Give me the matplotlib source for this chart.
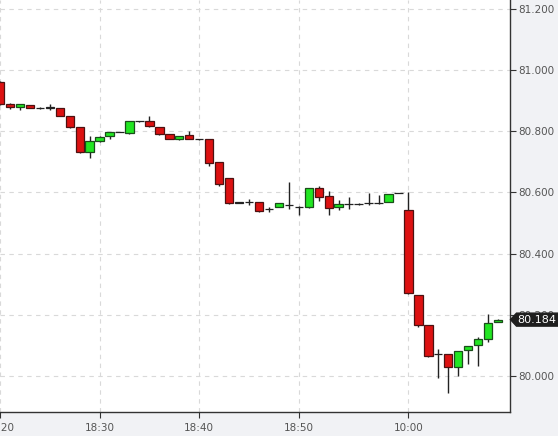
import matplotlib
matplotlib.use('Agg')
import matplotlib.pyplot as plt
from matplotlib.patches import Rectangle, Polygon

# ---- data ----
opens  = [80.961, 80.889, 80.879, 80.886, 80.877, 80.876, 80.876, 80.850, 80.814, 80.732,
          80.768, 80.784, 80.797, 80.794, 80.833, 80.833, 80.814, 80.791, 80.775, 80.788,
          80.775, 80.775, 80.699, 80.647, 80.566, 80.568, 80.569, 80.545, 80.552, 80.559,
          80.553, 80.552, 80.614, 80.588, 80.552, 80.562, 80.562, 80.565, 80.565, 80.569,
          80.598, 80.542, 80.265, 80.167, 80.072, 80.072, 80.029, 80.085, 80.101, 80.121,
          80.176]
highs  = [80.965, 80.892, 80.889, 80.886, 80.879, 80.889, 80.876, 80.850, 80.814, 80.784,
          80.784, 80.799, 80.799, 80.833, 80.835, 80.850, 80.814, 80.791, 80.784, 80.801,
          80.776, 80.775, 80.699, 80.647, 80.569, 80.578, 80.569, 80.552, 80.565, 80.634,
          80.555, 80.614, 80.621, 80.605, 80.575, 80.585, 80.565, 80.598, 80.592, 80.595,
          80.599, 80.601, 80.265, 80.167, 80.088, 80.072, 80.082, 80.098, 80.127, 80.203,
          80.186]
lows   = [80.886, 80.873, 80.869, 80.875, 80.873, 80.869, 80.850, 80.812, 80.730, 80.712,
          80.765, 80.775, 80.796, 80.791, 80.831, 80.814, 80.788, 80.773, 80.772, 80.773,
          80.772, 80.686, 80.621, 80.562, 80.565, 80.559, 80.536, 80.536, 80.552, 80.546,
          80.526, 80.550, 80.572, 80.526, 80.542, 80.546, 80.559, 80.559, 80.562, 80.569,
          80.597, 80.268, 80.160, 80.062, 79.993, 79.944, 80.000, 80.039, 80.033, 80.111,
          80.175]
closes = [80.889, 80.879, 80.889, 80.875, 80.876, 80.878, 80.850, 80.814, 80.732, 80.768,
          80.781, 80.797, 80.797, 80.833, 80.833, 80.817, 80.791, 80.775, 80.784, 80.775,
          80.774, 80.696, 80.627, 80.565, 80.568, 80.567, 80.539, 80.546, 80.565, 80.560,
          80.552, 80.614, 80.585, 80.549, 80.562, 80.563, 80.562, 80.566, 80.566, 80.595,
          80.598, 80.271, 80.167, 80.065, 80.071, 80.029, 80.082, 80.098, 80.121, 80.173,
          80.184]
tick_idx = [0, 10, 20, 30, 41]
tick_labels = ['18:20', '18:30', '18:40', '18:50', '10:00']
yticks = [80.0, 80.2, 80.4, 80.6, 80.8, 81.0, 81.2]
last_price = 80.184

# ---- figure ----
W, H = 558, 436
fig = plt.figure(figsize=(W / 100, H / 100), dpi=100)
fig.patch.set_facecolor('#f1f2f5')
ax = fig.add_axes([0, 24 / H, 510 / W, 412 / H])
ax.set_facecolor('white')

up_col, up_edge = '#22e622', '#1a4d1a'
dn_col, dn_edge = '#dd1111', '#4d1111'
bw = 0.84
for i, (o, h, l, c) in enumerate(zip(opens, highs, lows, closes)):
    ax.vlines(i, l, h, color='#222222', lw=1.0, zorder=2)
    up = c >= o
    bottom = min(o, c)
    height = max(abs(c - o), 0.0005)
    if abs(c - o) < 0.004:
        fc, ec = '#222222', '#222222'
    else:
        fc, ec = (up_col, up_edge) if up else (dn_col, dn_edge)
    ax.add_patch(Rectangle((i - bw / 2, bottom), bw, height, facecolor=fc,
                           edgecolor=ec, lw=0.9, zorder=3))

ax.set_xlim(0.2, 51.2)
ax.set_ylim(79.882, 81.229)

ax.set_xticks(tick_idx)
ax.set_xticklabels(tick_labels)
ax.set_yticks(yticks)
ax.set_yticklabels([f'{v:.3f}' for v in yticks])
ax.yaxis.tick_right()

for s in ['left', 'top']:
    ax.spines[s].set_visible(False)
for s in ['right', 'bottom']:
    ax.spines[s].set_color('#333333')
    ax.spines[s].set_linewidth(1.0)

ax.tick_params(axis='both', direction='out', length=4, color='#333333',
               labelsize=7.5, labelcolor='#555555', width=0.8)
ax.tick_params(axis='y', pad=2)
ax.tick_params(axis='x', pad=4)
ax.grid(True, linestyle=(0, (4, 4)), color='#d9d9d9', lw=0.8, zorder=0)
ax.set_axisbelow(True)

# ---- last price marker ----
_, yp = ax.transData.transform((0, last_price))
xs = 510.5
to_fig = fig.transFigure.inverted()
pts_px = [(xs, yp), (xs + 6, yp + 6.5), (W + 2, yp + 6.5), (W + 2, yp - 6.5), (xs + 6, yp - 6.5)]
pts = [to_fig.transform(p) for p in pts_px]
fig.patches.append(Polygon(pts, closed=True, transform=fig.transFigure,
                           facecolor='#1e1e1e', edgecolor='#1e1e1e', zorder=5))
fx, fy = to_fig.transform((xs + 6.5, yp))
fig.text(fx, fy, f'{last_price:.3f}', color='white', fontsize=8,
         va='center', ha='left', zorder=6)

fig.savefig('out.png', dpi=100, facecolor=fig.get_facecolor())
